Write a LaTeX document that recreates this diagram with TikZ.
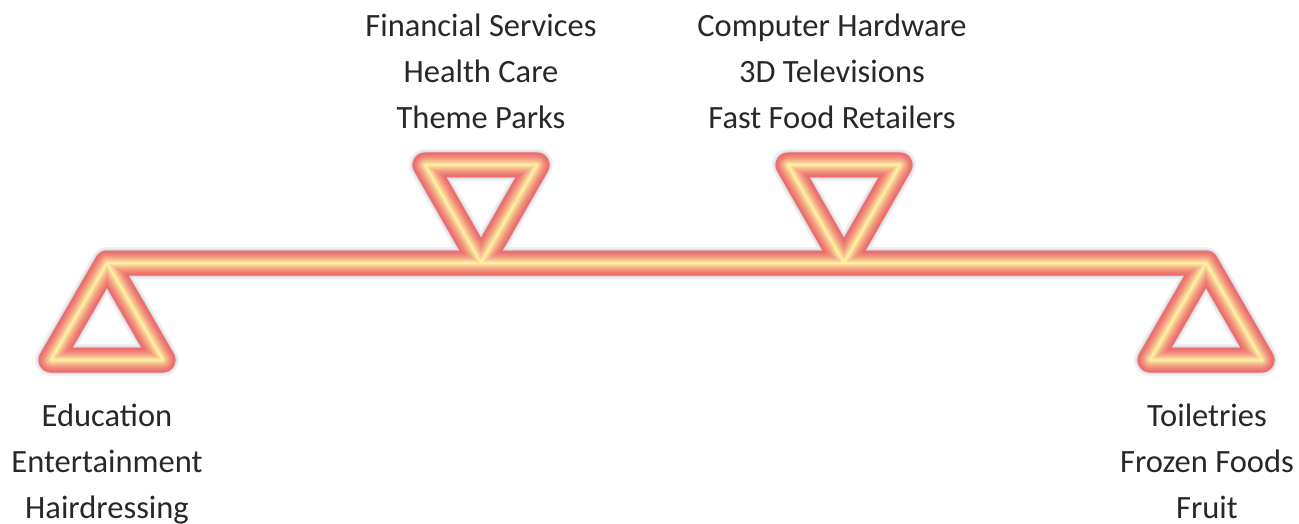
\documentclass[tikz,border=0pt]{standalone}
\usepackage{fontspec}
\setmainfont{Carlito}
\definecolor{tubeouter}{RGB}{236,108,108}
\definecolor{tubein}{RGB}{255,243,165}
\definecolor{txt}{RGB}{40,40,40}
\tikzset{
  tubepath/.style={line join=round, line cap=round, insert path={
    (51,360) -- (107,263) -- (163,360) -- cycle
    (107,263) -- (1206,263)
    (1150,360) -- (1206,263) -- (1262,360) -- cycle
    (425,165) -- (537,165) -- (481,263) -- cycle
    (788,165) -- (900,165) -- (844,263) -- cycle}},
  lbl/.style={align=center, text=txt, font=\fontsize{32.5}{46}\selectfont, inner sep=0pt,
    execute at begin node=\strut, execute at end node=\strut}
}
\begin{document}
\begin{tikzpicture}[x=1pt,y=-1pt]
\useasboundingbox[fill=white] (0,0) rectangle (1299,524);
% shadow
\foreach \w/\o in {32/0.06, 28/0.08, 25/0.11, 22/0.12}{
  \draw[tubepath, line width=\w pt, draw=black!75!blue, opacity=\o, shift={(2,4)}];
}
% tube layers
\foreach \i in {0,...,12}{
  \pgfmathsetmacro\w{25-2*\i}
  \pgfmathsetmacro\p{100*(\i/12)^1.4}
  \draw[tubepath, line width=\w pt, draw=tubein!\p!tubeouter];
}
\node[lbl] (topA) at (481,78) {Financial Services\\Health Care\\Theme Parks};
\node[lbl] (topB) at (832,78) {Computer Hardware\\3D Televisions\\Fast Food Retailers};
\node[lbl] (botL) at (107,468) {Education\\Entertainment\\Hairdressing};
\node[lbl] (botR) at (1207,468) {Toiletries\\Frozen Foods\\Fruit};
\end{tikzpicture}
\end{document}
